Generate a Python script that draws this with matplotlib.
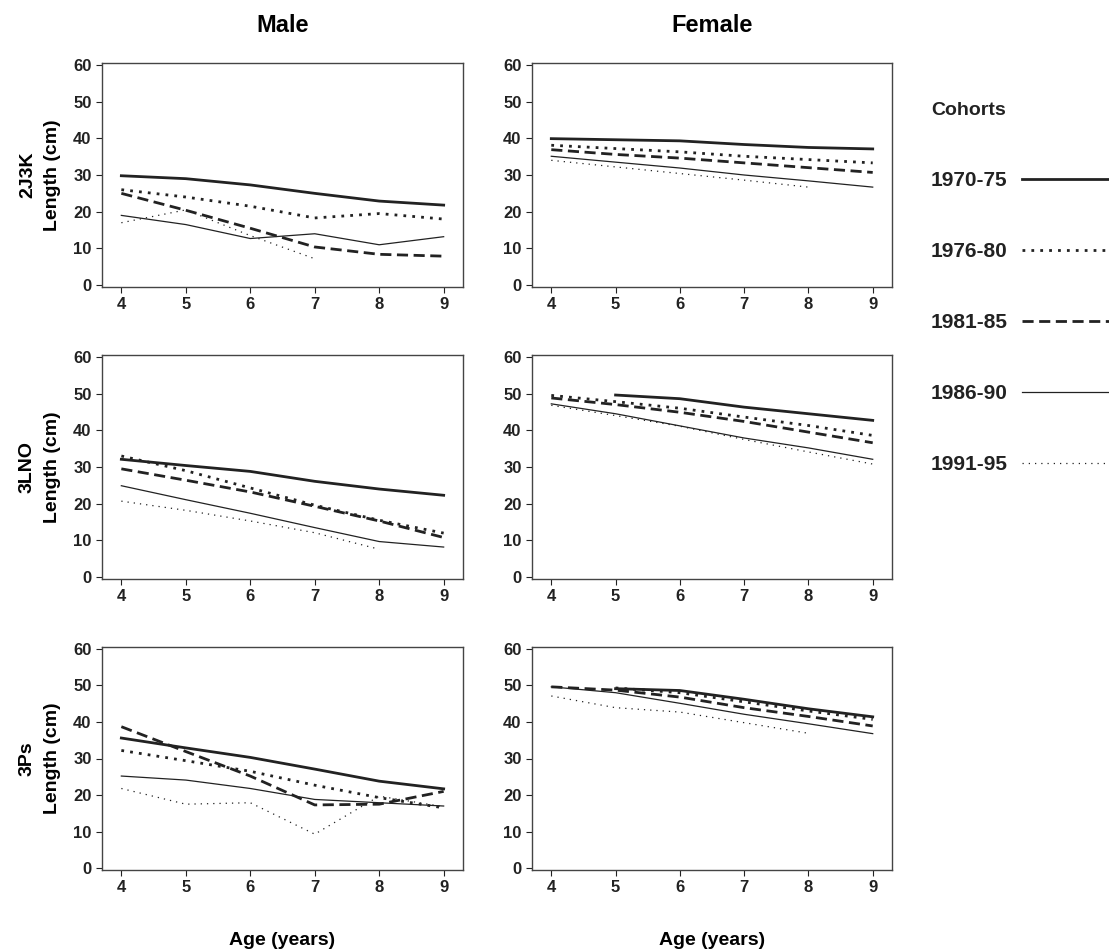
import numpy as np
import matplotlib.pyplot as plt
from matplotlib.lines import Line2D

plt.rcParams['font.family'] = ['Liberation Sans', 'DejaVu Sans']
plt.rcParams['font.weight'] = 'bold'

ages = [4, 5, 6, 7, 8, 9]
cohorts = ["1970-75", "1976-80", "1981-85", "1986-90", "1991-95"]
regions = ["2J3K", "3LNO", "3Ps"]
nan = np.nan

# length (cm) per cohort, ages 4..9
male_2J3K = [
    [29.8, 29.0, 27.3, 25.0, 22.9, 21.8],
    [26.0, 24.0, 21.5, 18.3, 19.5, 18.0],
    [25.0, 20.4, 15.5, 10.4, 8.4, 7.9],
    [19.0, 16.5, 12.7, 14.0, 11.0, 13.2],
    [17.0, 20.5, 13.5, 7.2, nan, nan],
]
female_2J3K = [
    [39.9, 39.6, 39.3, 38.3, 37.5, 37.1],
    [38.1, 37.2, 36.3, 35.1, 34.2, 33.3],
    [36.9, 35.6, 34.6, 33.3, 32.0, 30.7],
    [35.1, 33.5, 31.9, 30.0, 28.4, 26.7],
    [34.0, 32.2, 30.4, 28.6, 26.7, nan],
]
male_3LNO = [
    [32.1, 30.4, 28.8, 26.1, 24.0, 22.3],
    [33.0, 29.0, 24.3, 19.6, 15.5, 12.0],
    [29.5, 26.4, 23.2, 19.3, 15.3, 10.8],
    [24.9, 21.1, 17.4, 13.5, 9.7, 8.2],
    [20.7, 18.2, 15.3, 12.1, 7.6, nan],
]
female_3LNO = [
    [nan, 49.6, 48.6, 46.3, 44.5, 42.7],
    [49.5, 47.8, 46.0, 43.6, 41.3, 38.6],
    [48.8, 47.0, 44.9, 42.4, 39.5, 36.6],
    [47.2, 44.5, 41.2, 37.9, 35.2, 32.1],
    [46.8, 44.0, 41.1, 37.5, 34.1, 30.8],
]
male_3Ps = [
    [35.6, 32.9, 30.3, 27.1, 23.8, 21.7],
    [32.2, 29.4, 26.5, 22.7, 19.3, 16.5],
    [38.7, 31.9, 25.2, 17.3, 17.5, 21.0],
    [25.2, 24.1, 21.8, 18.8, 17.9, 17.0],
    [21.8, 17.5, 17.9, 9.3, 19.7, 16.8],
]
female_3Ps = [
    [nan, 49.1, 48.6, 46.2, 43.6, 41.4],
    [nan, 49.3, 48.0, 45.5, 43.0, 40.7],
    [49.6, 48.7, 46.8, 43.9, 41.5, 38.9],
    [49.6, 48.0, 45.1, 42.1, 39.5, 36.8],
    [47.1, 43.9, 42.7, 39.8, 36.9, nan],
]

male = [male_2J3K, male_3LNO, male_3Ps]
female = [female_2J3K, female_3LNO, female_3Ps]

ink = '#222222'
styles = [
    dict(lw=2.0, ls='-'),
    dict(lw=2.0, ls=(0, (1, 2.2))),
    dict(lw=2.0, ls=(0, (4, 2))),
    dict(lw=0.9, ls='-'),
    dict(lw=0.9, ls=(0, (1, 4))),
]

W, H = 1109, 951
fig = plt.figure(figsize=(W / 100, H / 100), dpi=100)

col_x = [(102, 463), (532, 892)]
row_y = [(63, 287), (355, 579), (647, 870)]

axes = {}
for r, (top, bot) in enumerate(row_y):
    for c, (left, right) in enumerate(col_x):
        ax = fig.add_axes([left / W, 1 - bot / H, (right - left) / W, (bot - top) / H])
        data = male[r] if c == 0 else female[r]
        for k, series in enumerate(data):
            ax.plot(ages, series, color=ink, **styles[k])
        ax.set_xlim(3.7, 9.3)
        ax.set_ylim(-0.5, 60.5)
        ax.set_xticks(ages)
        ax.set_yticks(range(0, 61, 10))
        ax.tick_params(labelsize=12, colors=ink, length=4, width=0.8)
        for s in ax.spines.values():
            s.set_color('#444444')
            s.set_linewidth(1.0)
        if c == 0:
            ax.set_ylabel(f"{regions[r]}\nLength (cm)", fontsize=14,
                          fontweight='bold', labelpad=9, linespacing=1.6)
        axes[(r, c)] = ax

axes[(0, 0)].set_title("Male", fontsize=17, fontweight='bold', pad=22)
axes[(0, 1)].set_title("Female", fontsize=17, fontweight='bold', pad=22)
for c in range(2):
    axes[(2, c)].set_xlabel("Age (years)", fontsize=14, fontweight='bold', labelpad=26)

handles = [Line2D([], [], color=ink, **s) for s in styles]
leg = fig.legend(handles, cohorts, loc='upper left', bbox_to_anchor=(912 / W, 1 - 83 / H),
                 frameon=False, markerfirst=False, fontsize=15, title="Cohorts",
                 title_fontsize=14, alignment='left', handlelength=4.2,
                 handletextpad=0.7, labelspacing=2.5)
for t in leg.get_texts():
    t.set_fontweight('bold')
    t.set_color(ink)
leg.get_title().set_fontweight('bold')
leg.get_title().set_color(ink)

fig.savefig("out.png", dpi=100)
